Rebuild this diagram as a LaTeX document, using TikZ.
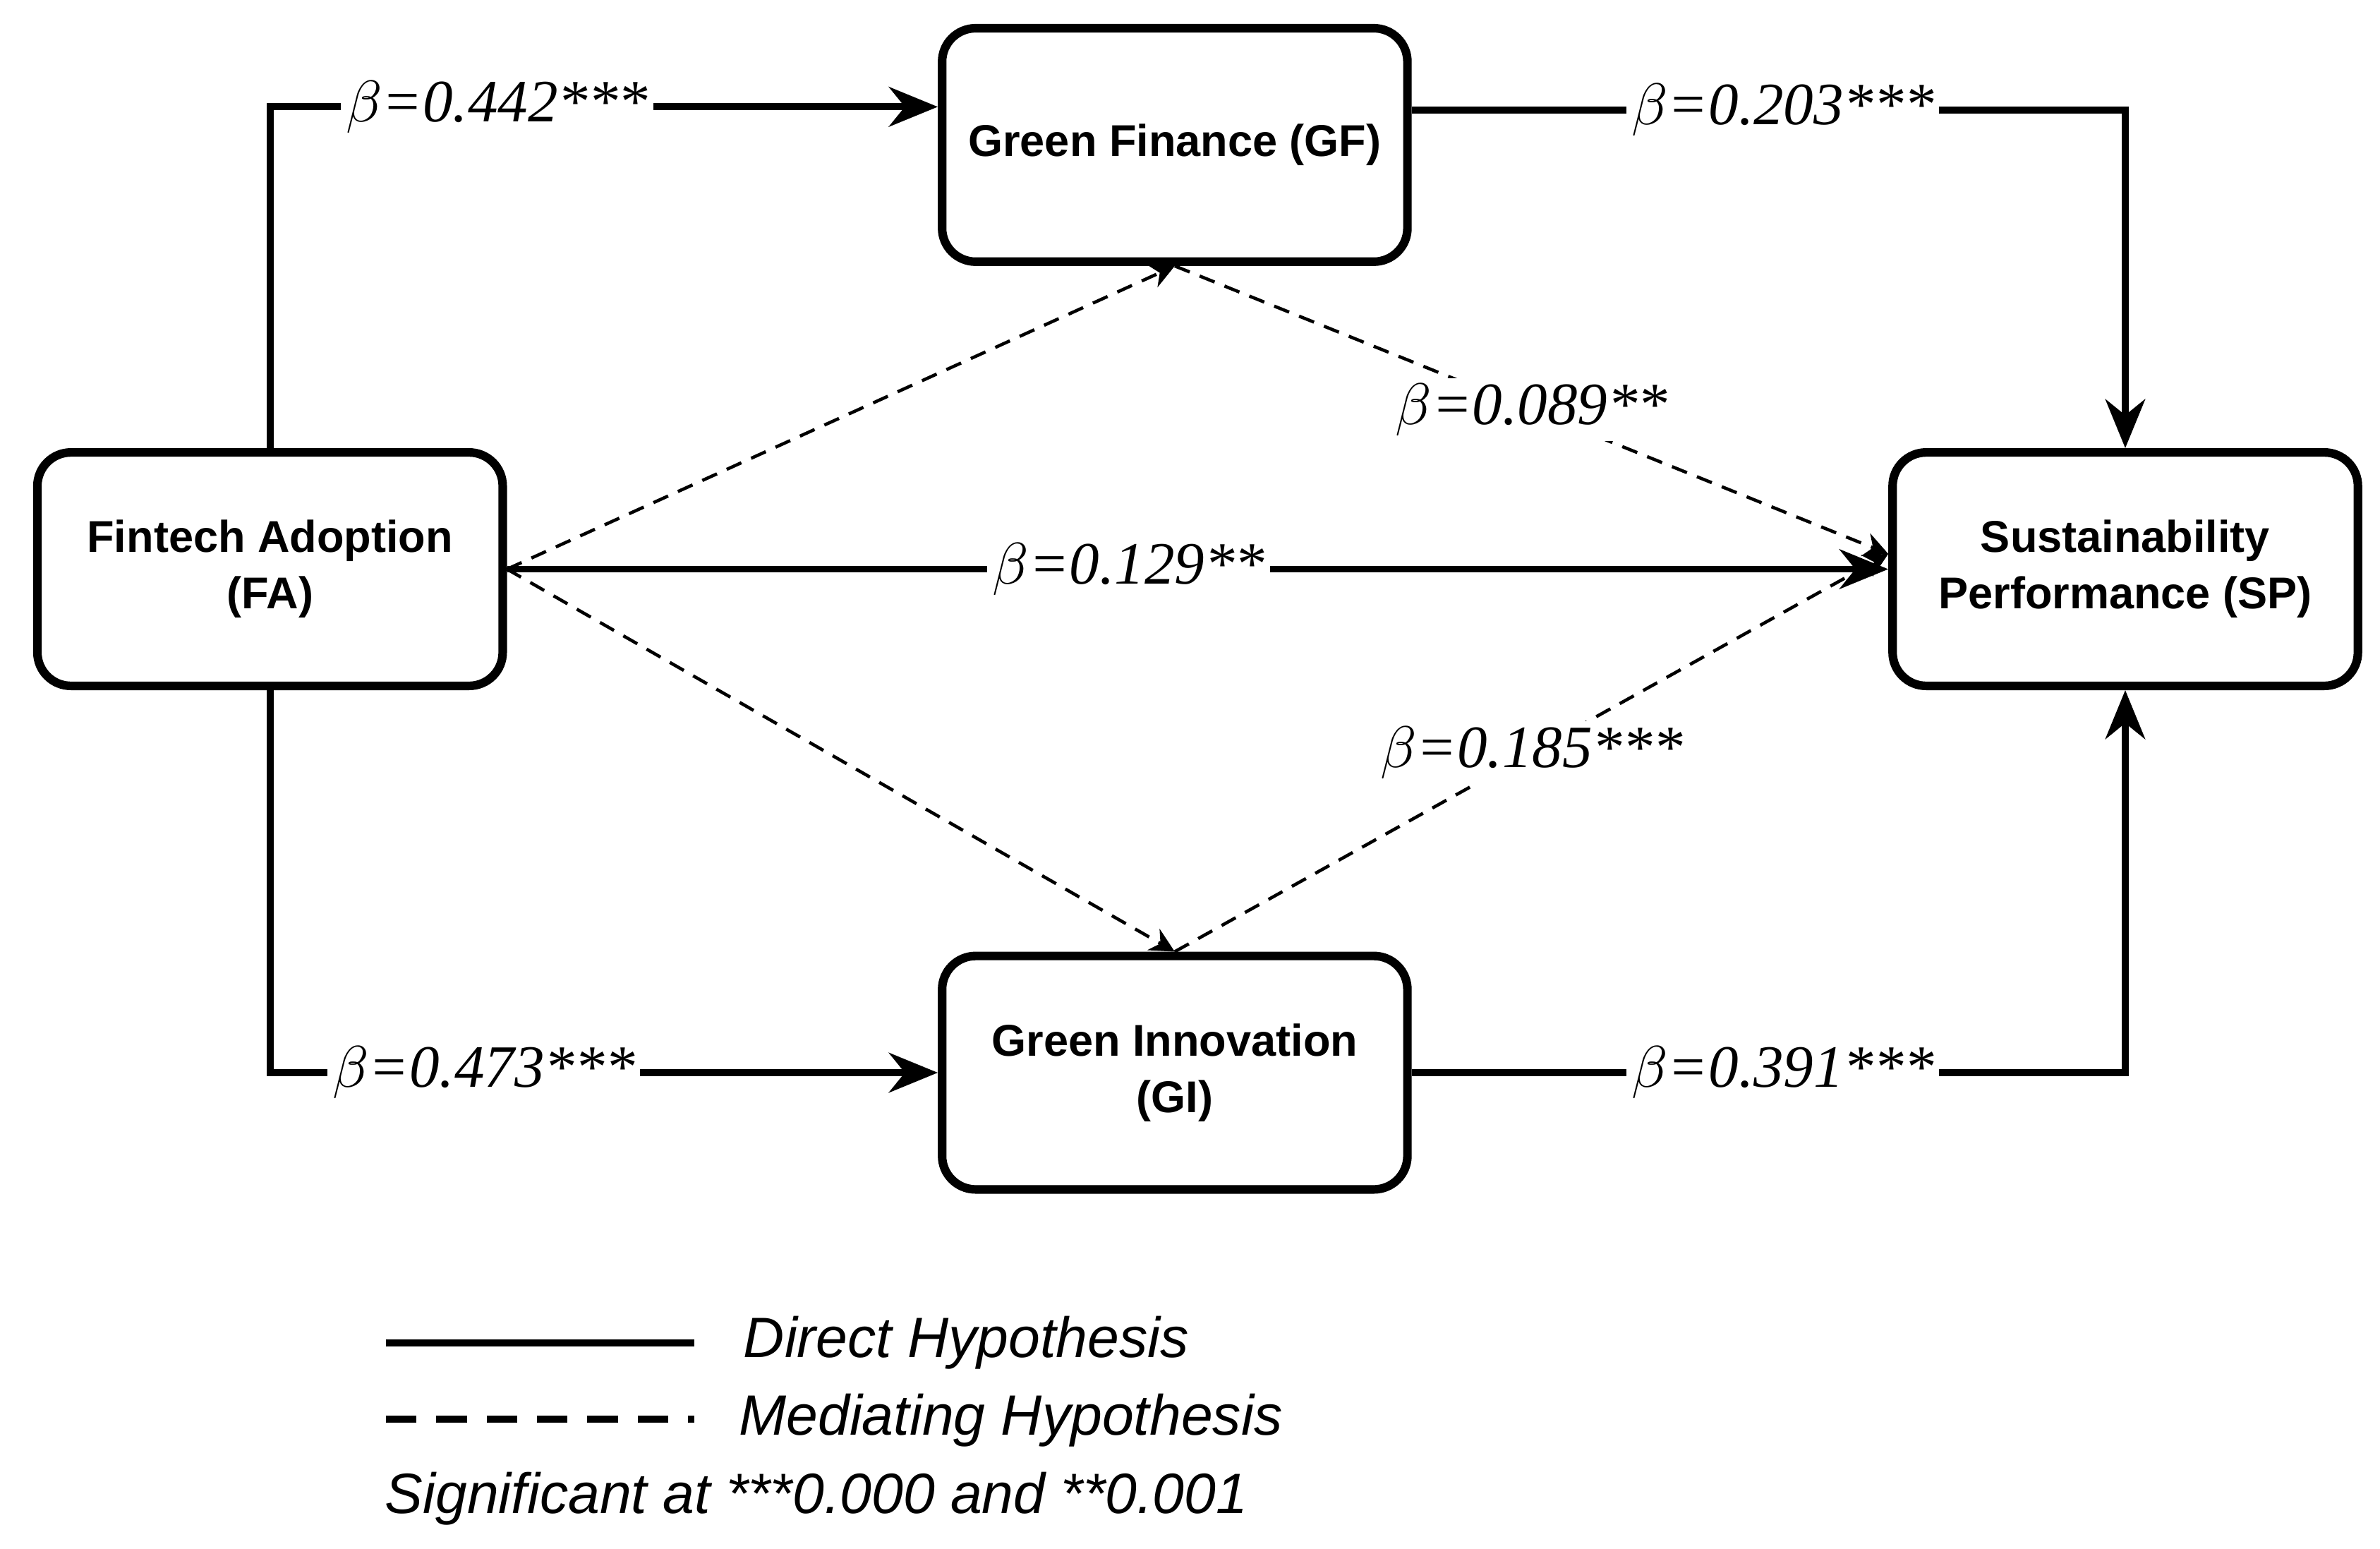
\documentclass[tikz,border=0pt]{standalone}
\usepackage{fontspec}
\setmainfont{Liberation Sans}
\newfontfamily\betafont{Liberation Serif}
\usetikzlibrary{arrows.meta,calc}

\begin{document}
\begin{tikzpicture}[
  font=\sffamily,
  block/.style={draw,line width=1.6pt,rounded corners=0.22cm,minimum width=3.05cm,minimum height=1.53cm,inner sep=1pt,align=center,font=\bfseries\fontsize{8.3}{10.5}\selectfont},
  to/.style={-{Stealth[length=0.32cm,width=0.26cm]},line width=1.3pt},
  med/.style={-{Stealth[length=0.16cm,width=0.16cm]},densely dashed,line width=0.6pt},
  coef/.style={fill=white,inner sep=1pt,font=\betafont\itshape\fontsize{11.2}{13}\selectfont},
  legend/.style={anchor=west,font=\itshape\fontsize{10.6}{13}\selectfont}]

  \useasboundingbox (0,0) rectangle (15.6,10.15);

  % Position the nodes
  \node[block] (FA) at (1.77,6.42) {Fintech Adoption\\(FA)};
  \node[block] (GF) at (7.70,9.20) {Green Finance (GF)};
  \node[block] (GI) at (7.70,3.12) {Green Innovation\\(GI)};
  \node[block] (SP) at (13.93,6.42) {Sustainability\\Performance (SP)};
  \coordinate (SPin) at ($(SP.west)+(0,0.1)$);

  % Direct paths
  \draw[to] (FA.north) |- node[coef,pos=0.67] {$\beta$=0.442***} (GF.west |- 0,9.45);
  \draw[to] (FA.south) |- node[coef,pos=0.66] {$\beta$=0.473***} (GI.west);
  \draw[to] (GF.east |- 0,9.43) -| node[coef,pos=0.26] {$\beta$=0.203***} (SP.north);
  \draw[to] (GI.east) -| node[coef,pos=0.26] {$\beta$=0.391***} (SP.south);
  \draw[to] (FA.east) -- node[coef,pos=0.45] {$\beta$=0.129**} (SP.west);

  % Mediating paths
  \draw[med] (FA.east) -- (GF.south);
  \draw[med] (FA.east) -- (GI.north);
  \draw[med] (GF.south) -- node[coef,pos=0.5] {$\beta$=0.089**} (SPin);
  \draw[med] (GI.north) -- node[coef,pos=0.5] {$\beta$=0.185***} (SPin);

  % Legend
  \coordinate (L1a) at (2.53,1.35);
  \coordinate (L1b) at (4.55,1.35);
  \coordinate (L2a) at (2.53,0.85);
  \coordinate (L2b) at (4.55,0.85);
  \draw[line width=1.3pt] (L1a) -- (L1b);
  \draw[line width=1.3pt,dash pattern=on 0.2cm off 0.13cm] (L2a) -- (L2b);
  \node[legend] (LD) at (4.75,1.35) {Direct Hypothesis};
  \node[legend] (LM) at (4.72,0.84) {Mediating Hypothesis};
  \node[legend] (LS) at (2.40,0.33) {Significant at ***0.000 and **0.001};
\end{tikzpicture}
\end{document}
